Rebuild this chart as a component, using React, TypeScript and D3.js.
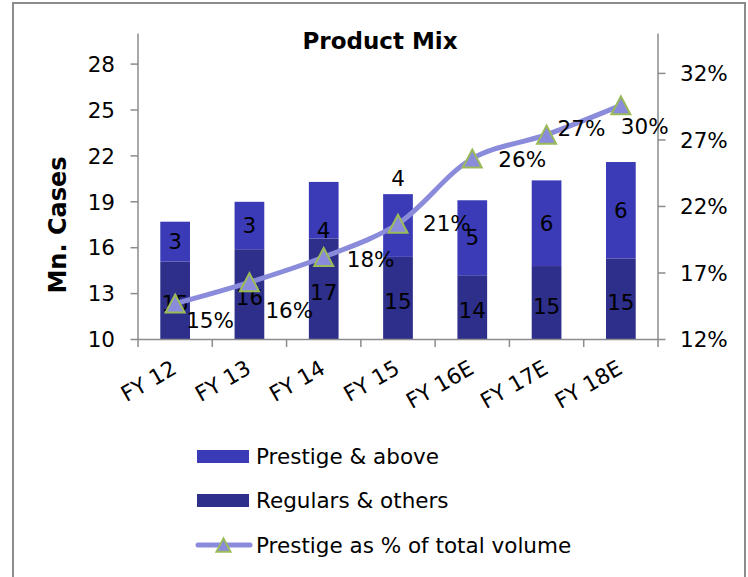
import React from "react";
import * as d3 from "d3";

// Fiscal years on the category axis
const years = ["FY 12", "FY 13", "FY 14", "FY 15", "FY 16E", "FY 17E", "FY 18E"];
// Volumes in million cases
const regulars = [15.1, 15.9, 16.6, 15.4, 14.2, 14.8, 15.3];
const prestige = [2.6, 3.1, 3.7, 4.1, 4.9, 5.6, 6.3];
// Prestige share of total volume, %
const prestigeShare = [14.7, 16.3, 18.2, 20.7, 25.6, 27.4, 29.6];

// Axis ticks
const leftTicks = [10, 13, 16, 19, 22, 25, 28];
const rightTicks = [12, 17, 22, 27, 32];

const W = 748;
const H = 577;
const FONT = "'DejaVu Sans', sans-serif";
const FS = 21.5;
const AXIS = "#8c8c8c";
const C_PRESTIGE = "#3b3bb7";
const C_REGULAR = "#2e2e8b";
const C_LINE = "#8b8bdb";
const C_MARK_STROKE = "#9bbb59";

// Per-label nudges (px) for the share labels, relative to the marker
const shareLabelNudge: [number, number][] = [
  [11, 17], [16, 28], [23, 2], [25, 0], [26, 1], [11, -6], [0, 21],
];
// Nudges for the prestige segment labels
const prestigeLabelNudge = [0, 0, 20, -47, 0, 0, 0];

const plot = { left: 138, right: 658, top: 33.5, bottom: 339.5 };

function triangle(cx: number, cy: number, s: number) {
  const h = s * 0.95;
  return `M${cx},${cy - h / 2}L${cx + s / 2},${cy + h / 2}L${cx - s / 2},${cy + h / 2}Z`;
}

export default function App() {
  const x = d3
    .scaleBand<string>()
    .domain(years)
    .range([plot.left, plot.right])
    .paddingInner(0.6)
    .paddingOuter(0.3);
  const step = x.step();
  const yL = d3.scaleLinear().domain([10, 30]).range([plot.bottom, plot.top]).clamp(true);
  const yR = d3.scaleLinear().domain([12, 35]).range([plot.bottom, plot.top]);

  const cx = (i: number) => (x(years[i]) as number) + x.bandwidth() / 2;

  const line = d3
    .line<number>()
    .x((_, i) => cx(i))
    .y((d) => yR(d))
    .curve(d3.curveCatmullRom.alpha(0.5));

  const fmt = d3.format(".0f");

  return (
    <svg
      width={W}
      height={H}
      style={{ position: "absolute", left: 0, top: 0, background: "#fff" }}
      fontFamily={FONT}
    >
      {/* chart frame */}
      <path d={`M13,${H + 2}V3H745V${H + 2}`} fill="none" stroke={AXIS} strokeWidth={2} />

      <text x={380} y={49} textAnchor="middle" fontSize={23} fontWeight="bold">
        Product Mix
      </text>

      {/* stacked bars, stacked from zero and cut at the axis floor */}
      {years.map((yr, i) => {
        const x0 = x(yr) as number;
        const bw = x.bandwidth();
        const r0 = yL(0);
        const r1 = yL(regulars[i]);
        const p1 = yL(regulars[i] + prestige[i]);
        return (
          <g key={yr}>
            <rect x={x0} y={r1} width={bw} height={r0 - r1} fill={C_REGULAR} />
            <rect x={x0} y={p1} width={bw} height={r1 - p1} fill={C_PRESTIGE} />
          </g>
        );
      })}

      {/* left axis */}
      <line x1={plot.left} x2={plot.left} y1={plot.top} y2={plot.bottom} stroke={AXIS} strokeWidth={1.5} />
      {leftTicks.map((t) => (
        <g key={t}>
          <line x1={plot.left - 7.5} x2={plot.left} y1={yL(t)} y2={yL(t)} stroke={AXIS} strokeWidth={1.5} />
          <text x={115} y={yL(t)} dy="0.36em" textAnchor="end" fontSize={FS}>
            {t}
          </text>
        </g>
      ))}
      <text
        transform={`translate(66,225) rotate(-90)`}
        textAnchor="middle"
        fontSize={24}
        fontWeight="bold"
      >
        Mn. Cases
      </text>

      {/* right axis */}
      <line x1={plot.right} x2={plot.right} y1={plot.top} y2={plot.bottom} stroke={AXIS} strokeWidth={1.5} />
      {rightTicks.map((t) => (
        <g key={t}>
          <line x1={plot.right} x2={plot.right + 7.5} y1={yR(t)} y2={yR(t)} stroke={AXIS} strokeWidth={1.5} />
          <text x={680} y={yR(t)} dy="0.36em" textAnchor="start" fontSize={FS}>
            {t}%
          </text>
        </g>
      ))}

      {/* bottom axis */}
      <line x1={plot.left} x2={plot.right} y1={plot.bottom} y2={plot.bottom} stroke={AXIS} strokeWidth={1.5} />
      {d3.range(years.length + 1).map((k) => (
        <line
          key={k}
          x1={plot.left + k * step}
          x2={plot.left + k * step}
          y1={plot.bottom}
          y2={plot.bottom + 7.5}
          stroke={AXIS}
          strokeWidth={1.5}
        />
      ))}
      {years.map((yr, i) => (
        <text
          key={yr}
          transform={`translate(${cx(i) + 3},${plot.bottom + 33}) rotate(-30)`}
          textAnchor="end"
          fontSize={FS}
        >
          {yr}
        </text>
      ))}

      {/* segment value labels */}
      {years.map((yr, i) => {
        const r0 = yL(0);
        const r1 = yL(regulars[i]);
        const p1 = yL(regulars[i] + prestige[i]);
        return (
          <g key={yr} fontSize={FS} textAnchor="middle">
            <text x={cx(i)} y={(r0 + r1) / 2 + 3} dy="0.36em">
              {fmt(regulars[i])}
            </text>
            <text x={cx(i)} y={(r1 + p1) / 2 + prestigeLabelNudge[i]} dy="0.36em">
              {fmt(prestige[i])}
            </text>
          </g>
        );
      })}

      {/* prestige share line */}
      <path d={line(prestigeShare) || ""} fill="none" stroke={C_LINE} strokeWidth={5} strokeLinecap="round" />
      {prestigeShare.map((v, i) => (
        <path
          key={i}
          d={triangle(cx(i), yR(v), 19)}
          fill={C_LINE}
          stroke={C_MARK_STROKE}
          strokeWidth={2}
          strokeLinejoin="miter"
        />
      ))}
      {prestigeShare.map((v, i) => (
        <text
          key={i}
          x={cx(i) + shareLabelNudge[i][0]}
          y={yR(v) + shareLabelNudge[i][1]}
          dy="0.36em"
          fontSize={FS}
        >
          {fmt(v)}%
        </text>
      ))}

      {/* legend */}
      <rect x={197} y={450} width={52} height={13} fill={C_PRESTIGE} />
      <text x={256} y={456.5} dy="0.36em" fontSize={FS}>
        Prestige &amp; above
      </text>
      <rect x={197} y={494} width={52} height={13} fill={C_REGULAR} />
      <text x={256} y={500.5} dy="0.36em" fontSize={FS}>
        Regulars &amp; others
      </text>
      <line x1={198} x2={250} y1={545} y2={545} stroke={C_LINE} strokeWidth={5} strokeLinecap="round" />
      <path d={triangle(223.5, 545, 14)} fill={C_LINE} stroke={C_MARK_STROKE} strokeWidth={2} />
      <text x={256} y={545} dy="0.36em" fontSize={FS}>
        Prestige as % of total volume
      </text>
    </svg>
  );
}
